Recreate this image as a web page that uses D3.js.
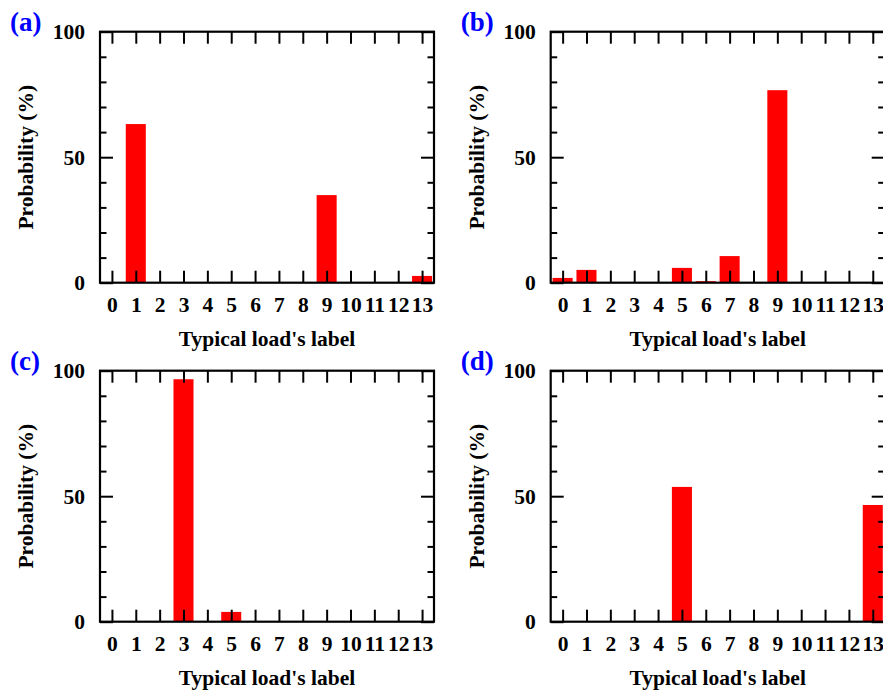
<!DOCTYPE html>
<html>
<head>
<meta charset="utf-8">
<script src="https://cdn.jsdelivr.net/npm/d3@7"></script>
<style>
  body { margin: 0; background: #fff; }
  svg { display: block; }
  text { font-family: "Liberation Serif", "Times New Roman", serif; font-weight: bold; }
</style>
</head>
<body>
<svg id="chart" width="883" height="693"></svg>
<script>
// typical load labels on the x axis
const categories = [0, 1, 2, 3, 4, 5, 6, 7, 8, 9, 10, 11, 12, 13];

// probability (%) for each panel
const seriesA = [0, 63.2, 0, 0, 0, 0, 0, 0, 0, 34.9, 0, 0, 0, 2.7];
const seriesB = [1.9, 5.1, 0, 0, 0, 5.9, 0.6, 10.6, 0, 76.7, 0, 0, 0, 0];
const seriesC = [0, 0, 0, 96.6, 0, 3.9, 0, 0, 0, 0, 0, 0, 0, 0];
const seriesD = [0, 0, 0, 0, 0, 53.7, 0, 0, 0, 0, 0, 0, 0, 46.5];

const panelNames = ["(a)", "(b)", "(c)", "(d)"];
const yMajor = [0, 50, 100];
const yMinor = [10, 20, 30, 40, 60, 70, 80, 90];

const panels = [
    { name: panelNames[0], values: seriesA, left: 100, top: 31.7 },
    { name: panelNames[1], values: seriesB, left: 550.7, top: 31.7 },
    { name: panelNames[2], values: seriesC, left: 100, top: 370.7 },
    { name: panelNames[3], values: seriesD, left: 550.7, top: 370.7 }
];

const plotW = 334;
const plotH = 251;
const fontSize = 21.5;

const svg = d3.select("#chart");

function drawPanel(p) {
    const g = svg.append("g").attr("transform", `translate(${p.left},${p.top})`);

    const x = d3.scaleLinear().domain([-0.5, 13.5]).range([0, plotW]);
    const y = d3.scaleLinear().domain([0, 100]).range([plotH, 0]);
    const barW = (x(1) - x(0)) * 0.84;

    g.selectAll("rect.bar")
        .data(p.values)
        .join("rect")
        .attr("class", "bar")
        .attr("x", (d, i) => x(categories[i]) - barW / 2)
        .attr("width", barW)
        .attr("y", d => y(d))
        .attr("height", d => y(0) - y(d))
        .attr("fill", "#ff0000");

    const styleAxis = sel => {
        sel.select(".domain").remove();
        sel.selectAll("line").attr("stroke", "#000").attr("stroke-width", 2);
        sel.selectAll("text").attr("font-size", fontSize).attr("fill", "#000")
            .style("font-family", '"Liberation Serif", "Times New Roman", serif')
            .style("font-weight", "bold");
    };

    g.append("g").attr("transform", `translate(0,${plotH})`)
        .call(d3.axisBottom(x).tickValues(categories).tickSize(-12).tickPadding(14.5).tickFormat(d3.format("d")))
        .call(styleAxis);
    g.append("g")
        .call(d3.axisTop(x).tickValues(categories).tickSize(-12).tickFormat(""))
        .call(styleAxis);

    g.append("g")
        .call(d3.axisLeft(y).tickValues(yMajor).tickSize(-13).tickPadding(15))
        .call(styleAxis);
    g.append("g")
        .call(d3.axisLeft(y).tickValues(yMinor).tickSize(-6.5).tickFormat(""))
        .call(styleAxis);
    g.append("g").attr("transform", `translate(${plotW},0)`)
        .call(d3.axisRight(y).tickValues(yMajor).tickSize(-13).tickFormat(""))
        .call(styleAxis);
    g.append("g").attr("transform", `translate(${plotW},0)`)
        .call(d3.axisRight(y).tickValues(yMinor).tickSize(-6.5).tickFormat(""))
        .call(styleAxis);

    g.append("rect")
        .attr("width", plotW)
        .attr("height", plotH)
        .attr("fill", "none")
        .attr("stroke", "#000")
        .attr("stroke-width", 2.2);

    g.append("text")
        .attr("transform", `translate(-67,${plotH / 2}) rotate(-90)`)
        .attr("text-anchor", "middle")
        .attr("font-size", fontSize)
        .text("Probability (%)");

    g.append("text")
        .attr("x", plotW / 2)
        .attr("y", 314.5)
        .attr("text-anchor", "middle")
        .attr("font-size", fontSize)
        .text("Typical load's label");

    g.append("text")
        .attr("x", -90)
        .attr("y", -0.7)
        .attr("font-size", 27)
        .attr("fill", "#0000ff")
        .text(p.name);
}

panels.forEach(drawPanel);
</script>
</body>
</html>
